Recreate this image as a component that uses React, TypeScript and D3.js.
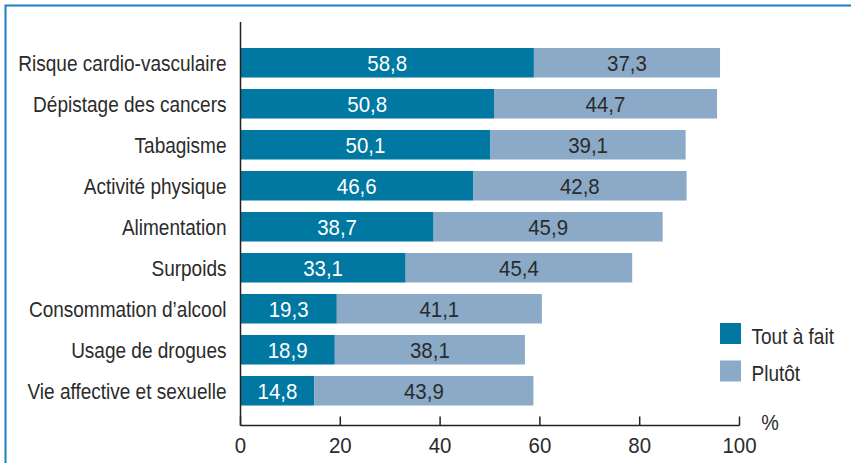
import React from "react";
import * as d3 from "d3";

const categories = [
  "Risque cardio-vasculaire",
  "Dépistage des cancers",
  "Tabagisme",
  "Activité physique",
  "Alimentation",
  "Surpoids",
  "Consommation d’alcool",
  "Usage de drogues",
  "Vie affective et sexuelle",
];
const toutAFait = [58.8, 50.8, 50.1, 46.6, 38.7, 33.1, 19.3, 18.9, 14.8];
const plutot = [37.3, 44.7, 39.1, 42.8, 45.9, 45.4, 41.1, 38.1, 43.9];
const xTicks = [0, 20, 40, 60, 80, 100];
const seriesNames = ["Tout à fait", "Plutôt"];

const W = 851;
const H = 463;
const FONT = "'Liberation Sans', Arial, sans-serif";
const DARK = "#0078a1";
const LIGHT = "#8aaac8";
const TEXT = "#2b2b2b";

const fmt = (v: number) => v.toFixed(1).replace(".", ",");

type TProps = {
  x: number;
  y: number;
  sx: number;
  anchor?: "start" | "middle" | "end";
  fill?: string;
  size?: number;
  dy?: string;
  children: React.ReactNode;
};

function T({ x, y, sx, anchor = "start", fill = TEXT, size = 22, dy, children }: TProps) {
  return (
    <text
      transform={`translate(${x},${y}) scale(${sx},1)`}
      textAnchor={anchor}
      fill={fill}
      fontSize={size}
      dy={dy}
    >
      {children}
    </text>
  );
}

export default function App() {
  const x = d3.scaleLinear().domain([0, 100]).range([240.5, 739.5]);
  const y = d3
    .scaleBand<string>()
    .domain(categories)
    .range([42.25, 411.25])
    .paddingInner(0.28)
    .paddingOuter(0.14);
  const axisY = 425.5;
  const NUM_SX = 0.93;
  const LAB_SX = 0.865;

  return (
    <svg
      width={W}
      height={H}
      style={{ position: "absolute", left: 0, top: 0, background: "#fff" }}
      fontFamily={FONT}
    >
      <rect x={5.5} y={5.5} width={W + 10} height={H + 10} fill="none" stroke="#1a80c0" strokeWidth={2} />
      {categories.map((c, i) => {
        const y0 = y(c)!;
        const bh = y.bandwidth();
        const a = toutAFait[i];
        const b = plutot[i];
        const cy = y0 + bh / 2;
        return (
          <g key={c}>
            <rect x={x(0)} y={y0} width={x(a) - x(0)} height={bh} fill={DARK} />
            <rect x={x(a)} y={y0} width={x(a + b) - x(a)} height={bh} fill={LIGHT} />
            <T x={(x(0) + x(a)) / 2} y={cy} dy="0.36em" anchor="middle" fill="#fff" sx={NUM_SX}>
              {fmt(a)}
            </T>
            <T x={(x(a) + x(a + b)) / 2} y={cy} dy="0.36em" anchor="middle" sx={NUM_SX}>
              {fmt(b)}
            </T>
            <T x={226.5} y={cy} dy="0.36em" anchor="end" sx={LAB_SX}>
              {c}
            </T>
          </g>
        );
      })}
      <line x1={240.5} x2={240.5} y1={22} y2={axisY} stroke="#222" strokeWidth={1.5} />
      <line x1={240.5} x2={x(100)} y1={axisY} y2={axisY} stroke="#222" strokeWidth={1.5} />
      {xTicks.map((t) => (
        <g key={t}>
          <line x1={x(t)} x2={x(t)} y1={axisY - 9} y2={axisY} stroke="#222" strokeWidth={1.5} />
          <T x={x(t)} y={453} anchor="middle" sx={NUM_SX}>
            {t}
          </T>
        </g>
      ))}
      <T x={770} y={429.5} anchor="middle" sx={0.9}>
        %
      </T>
      {seriesNames.map((s, i) => (
        <g key={s}>
          <rect x={720} y={323 + i * 37.5} width={21} height={21} fill={i === 0 ? DARK : LIGHT} />
          <T x={751.5} y={344 + i * 37} sx={LAB_SX}>
            {s}
          </T>
        </g>
      ))}
    </svg>
  );
}
